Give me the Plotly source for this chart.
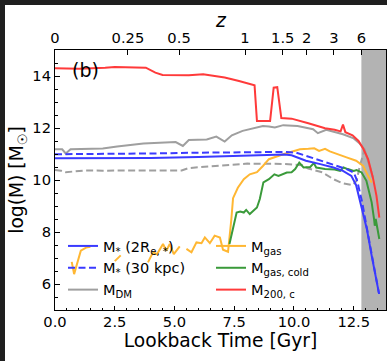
import plotly.graph_objects as go

# Redshift ticks for the top axis and their lookback times [Gyr]
z_labels = ["0", "0.25", "0.5", "1", "1.5", "2", "3", "6"]
z_lookback = [0.0, 3.05, 5.19, 7.95, 9.53, 10.53, 11.67, 12.82]

t_max = 13.85
logm_range = [5, 15]

# Stellar mass within 2 R_e,*
mstar_re_t = [0, 2, 4, 6, 7.5, 8.5, 9.6, 9.9, 10.1, 10.5, 11.1, 11.65, 12.05,
              12.4, 12.6, 12.82, 13.05, 13.25, 13.4, 13.56]
mstar_re = [10.84, 10.84, 10.85, 10.88, 10.92, 10.95, 10.98, 10.95, 10.87, 10.74,
            10.61, 10.48, 10.35, 10.16, 9.80, 9.01, 8.11, 7.09, 6.32, 5.62]

# Stellar mass within 30 kpc
mstar_30_t = [0, 2, 4, 6, 7.5, 9.0, 9.7, 10.1, 10.5, 11.1, 11.65, 12.2, 12.5,
              12.65, 12.85, 13.05, 13.25, 13.4, 13.56]
mstar_30 = [10.99, 11.0, 11.02, 11.05, 11.07, 11.08, 11.08, 11.05, 10.93, 10.78,
            10.61, 10.42, 10.29, 9.95, 9.15, 8.2, 7.15, 6.4, 5.62]

# Dark matter mass
mdm_t = [0, 0.3, 0.45, 0.65, 2.0, 2.6, 3.7, 5.05, 5.35, 5.6, 6.35, 6.75, 7.1,
         7.4, 7.85, 8.7, 8.95, 9.2, 9.55, 10.15, 10.8, 11.0, 11.35, 12.05, 12.5,
         12.75, 12.95, 13.1, 13.3]
mdm = [11.18, 11.18, 11.02, 11.18, 11.21, 11.29, 11.40, 11.46, 11.31, 11.54,
       11.56, 11.67, 11.48, 11.72, 11.89, 12.08, 12.06, 12.02, 12.11, 12.08,
       11.95, 11.80, 11.93, 11.76, 11.60, 11.40, 11.18, 10.75, 10.10]

# Dark matter mass within 30 kpc
mdm_30_t = [0, 0.25, 0.45, 1.3, 2.0, 5.3, 5.6, 7.45, 8.05, 9.5, 10.35, 10.6,
            11.2, 11.65, 12.05, 12.45, 12.62, 12.75, 12.95, 13.1, 13.3]
mdm_30 = [10.38, 10.36, 10.30, 10.37, 10.36, 10.37, 10.46, 10.57, 10.63, 10.62,
          10.57, 10.44, 10.29, 10.03, 9.87, 9.80, 9.97, 10.52, 11.15, 10.75, 10.10]

# Total gas mass (None = no gas in that snapshot)
mgas_t = [0.7, 0.8, 1.08, 1.3, 1.48, None,
          2.5, 2.75, None,
          3.89, 4.1, 4.27, 4.52, 4.66, 4.8, 4.97, 5.22, None,
          5.5, 5.71, 5.92, 6.13, 6.27, 6.48, 6.68, 6.9, 7.03, 7.24, 7.38, 7.45,
          7.65, 7.9, 8.15, 8.45, 8.7, 8.95, 9.55, 10.25, 10.6, 10.85, 11.05,
          11.3, 11.5, 11.8, 12.2, 12.6, 12.9, 13.1, 13.25]
mgas = [6.85, 6.38, 7.28, 7.40, 7.43, None,
        6.88, 7.10, None,
        6.83, 7.22, 7.15, 7.54, 7.28, 7.54, 7.15, 7.45, None,
        7.35, 7.22, 7.60, 7.57, 7.79, 7.57, 7.86, 7.79, 7.32, 7.24, 8.5, 9.3,
        9.7, 10.03, 10.22, 10.30, 10.54, 10.80, 10.99, 11.18, 11.20, 11.22, 11.12,
        11.20, 11.10, 10.99, 10.87, 10.74, 10.54, 10.16, 9.90]

# Cold gas mass
mcold_t = [7.3, 7.5, 7.6, 7.75, 7.9, 8.0, 8.15, 8.45, 8.57, 8.72, 8.95, 9.18,
           9.35, 9.7, 9.9, 10.05, 10.22, 10.4, 10.68, 10.83, 10.93, 11.3, 11.7,
           11.93, 12.07, 12.25, 12.5, 12.62, 12.83, 13.03, 13.25, 13.35, 13.38,
           13.42, 13.57]
mcold = [7.54, 8.30, 8.75, 8.79, 8.75, 8.85, 8.69, 8.94, 9.27, 9.91, 10.03, 10.22,
         10.16, 10.29, 10.30, 10.42, 10.67, 10.48, 10.50, 10.65, 10.48, 10.42, 10.40,
         10.35, 10.48, 10.42, 10.35, 10.38, 10.29, 9.97, 9.14, 8.50, 8.24,
         8.50, 7.73]

# Halo mass M_200,c
m200_t = [0, 1.0, 2.1, 2.5, 3.8, 4.2, 4.5, 5.6, 6.2, 6.8, 7.1, 7.7, 8.35, 8.45,
          9.0, 9.15, 9.3, 9.47, 9.9, 10.6, 11.3, 11.7, 11.95, 12.05, 12.15,
          12.45, 12.7, 12.9, 13.1, 13.3, 13.45, 13.57]
m200 = [14.30, 14.28, 14.32, 14.35, 14.32, 14.13, 14.04, 14.03, 14.07, 13.99,
        13.94, 13.81, 13.64, 12.27, 12.27, 13.55, 13.57, 12.38, 12.36, 12.18,
        11.99, 11.93, 11.87, 12.13, 11.84, 11.72, 11.50, 11.20, 10.80, 10.10,
        9.40, 8.55]

BLUE = "#3a3aff"
GRAY = "#9f9f9f"
ORANGE = "#ffb733"
GREEN = "#3a9a3a"
RED = "#ff3a3a"
FONT = "DejaVu Sans"

fig = go.Figure()


def add_line(t, y, name, color, dash="solid", legend="legend", rank=1000, show=True):
    fig.add_trace(go.Scatter(
        x=t, y=y, name=name, mode="lines", connectgaps=False,
        line=dict(color=color, width=2, dash=dash),
        legend=legend, legendrank=rank, showlegend=show, hoverinfo="skip"))


add_line(mdm_30_t, mdm_30, "M<sub>DM</sub> (30 kpc)", GRAY, "7px,3.5px", show=False)
add_line(mdm_t, mdm, "M<sub>DM</sub>", GRAY, rank=3)
add_line(m200_t, m200, "M<sub>200, c</sub>", RED, legend="legend2", rank=3)
add_line(mgas_t, mgas, "M<sub>gas</sub>", ORANGE, legend="legend2", rank=1)
add_line(mcold_t, mcold, "M<sub>gas, cold</sub>", GREEN, legend="legend2", rank=2)
add_line(mstar_re_t, mstar_re, "M<sub>*</sub> (2R<sub>e, *</sub>)", BLUE, rank=1)
add_line(mstar_30_t, mstar_30, "M<sub>*</sub> (30 kpc)", BLUE, "7px,3.5px", rank=2)

# Empty trace that carries the redshift axis on top
fig.add_trace(go.Scatter(x=z_lookback, y=[None] * len(z_lookback), xaxis="x2",
                         mode="lines", showlegend=False, hoverinfo="skip"))

# Epoch before z = 6 shaded
fig.add_shape(type="rect", xref="x", yref="paper", x0=z_lookback[-1], x1=t_max,
              y0=0, y1=1, fillcolor="#b3b3b3", line_width=0, layer="below")

# Dark frame strips along the left and top edges of the canvas
W, H = 387, 361
L, R, T, B = 55, 1, 50, 51
pw, ph = W - L - R, H - T - B
fig.add_shape(type="rect", xref="paper", yref="paper",
              x0=-L / pw - 0.05, x1=(5 - L) / pw, y0=-B / ph - 0.05, y1=(T + B + ph) / ph,
              fillcolor="#1f1f1f", line_width=0, layer="above")
fig.add_shape(type="rect", xref="paper", yref="paper",
              x0=-L / pw - 0.05, x1=1.1, y0=(ph + T - 5) / ph, y1=(ph + T) / ph + 0.05,
              fillcolor="#1f1f1f", line_width=0, layer="above")

fig.add_annotation(text="(b)", xref="paper", yref="paper", x=(85 - L) / pw,
                   y=(H - B - 70) / ph, xanchor="center", yanchor="middle",
                   showarrow=False, font=dict(family=FONT, size=19, color="black"))

# Redshift axis label
fig.add_annotation(text="<i>z</i>", xref="paper", yref="paper", x=0.5,
                   y=(H - B - 21) / ph, xanchor="center", yanchor="middle",
                   showarrow=False, font=dict(family=FONT, size=18.7, color="black"))

axis_font = dict(family=FONT, size=14.7, color="black")
title_font = dict(family=FONT, size=18.7, color="black")

fig.update_layout(
    width=W, height=H,
    margin=dict(l=L, r=R, t=T, b=B, autoexpand=False),
    paper_bgcolor="white", plot_bgcolor="white",
    font=dict(family=FONT, color="black"),
    showlegend=True,
    xaxis=dict(
        range=[0, t_max], dtick=2.5, tick0=0, tickformat=".1f",
        ticks="inside", ticklen=4.5, tickcolor="black", tickwidth=1,
        minor=dict(dtick=0.5, ticks="inside", ticklen=2.5, tickcolor="black"),
        showline=True, linecolor="black", linewidth=1, mirror=False,
        showgrid=False, zeroline=False, tickfont=axis_font, ticklabelstandoff=-2,
        title=dict(text="Lookback Time [Gyr]", font=title_font, standoff=4),
    ),
    xaxis2=dict(
        overlaying="x", side="top", range=[0, t_max], anchor="y",
        tickmode="array", tickvals=z_lookback, ticktext=z_labels,
        ticks="inside", ticklen=4.5, tickcolor="black", tickwidth=1,
        showline=True, linecolor="black", linewidth=1,
        showgrid=False, zeroline=False, tickfont=axis_font,
    ),
    yaxis=dict(
        range=logm_range, dtick=2, tick0=0,
        ticks="inside", ticklen=4.5, tickcolor="black", tickwidth=1,
        minor=dict(dtick=0.5, ticks="inside", ticklen=2.5, tickcolor="black"),
        showline=True, linecolor="black", linewidth=1, mirror=True,
        showgrid=False, zeroline=False, tickfont=axis_font,
        title=dict(text="log(M) [M<sub>☉</sub>]", font=title_font, standoff=3),
    ),
    legend=dict(
        x=(63 - L) / pw, y=(H - B - 230) / ph, xanchor="left", yanchor="top",
        bgcolor="rgba(0,0,0,0)", borderwidth=0,
        font=dict(family=FONT, size=14.5, color="black"), tracegroupgap=0,
    ),
    legend2=dict(
        x=(211 - L) / pw, y=(H - B - 230) / ph, xanchor="left", yanchor="top",
        bgcolor="rgba(0,0,0,0)", borderwidth=0,
        font=dict(family=FONT, size=14.5, color="black"), tracegroupgap=0,
    ),
)

fig.write_html("out.html")
